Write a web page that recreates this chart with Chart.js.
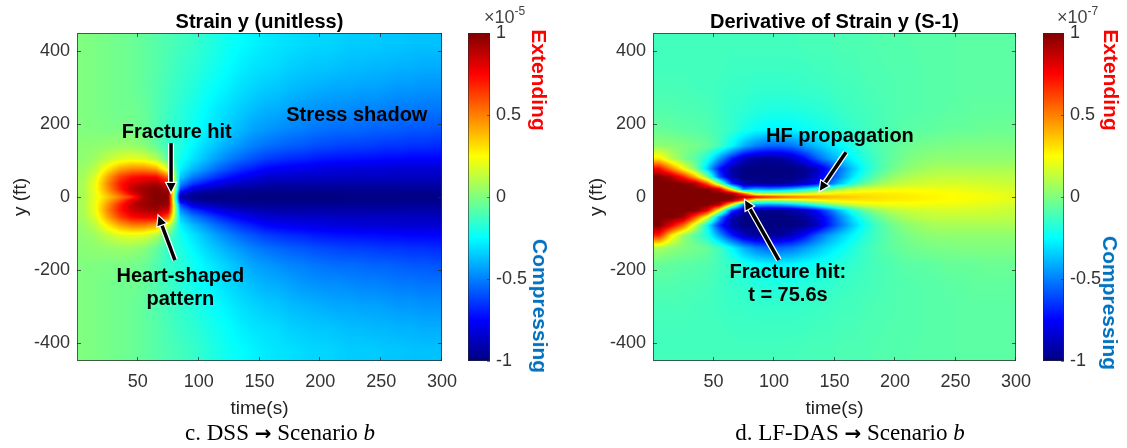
<!DOCTYPE html>
<html><head><meta charset="utf-8">
<script src="https://cdn.jsdelivr.net/npm/chart.js@4.4.1/dist/chart.umd.min.js"></script>
<style>
html,body{margin:0;padding:0;background:#fff}
body{width:1127px;height:448px;position:relative;overflow:hidden;font-family:"Liberation Sans",Arial,sans-serif}
canvas{position:absolute;top:0}
.c{position:absolute;transform:translate(-50%,-50%);white-space:nowrap}
.rot{position:absolute;transform:translate(-50%,-50%) rotate(90deg);white-space:nowrap;font:bold 21px "Liberation Sans",Arial,sans-serif}
.cap{font:23px "Liberation Serif","Times New Roman",serif;color:#000}
.exp{position:absolute;font:18px "Liberation Sans",Arial,sans-serif;color:#444;white-space:nowrap}
.exp sup{font-size:12px;vertical-align:8px}
</style></head>
<body>
<canvas id="c1" width="470" height="448" style="left:0"></canvas>
<canvas id="cb1" width="62" height="448" style="left:468px"></canvas>
<canvas id="c2" width="468" height="448" style="left:576px"></canvas>
<canvas id="cb2" width="61" height="448" style="left:1043px"></canvas>

<div class="exp" style="left:484px;top:4px">×10<sup>-5</sup></div>
<div class="exp" style="left:1057px;top:4px">×10<sup>-7</sup></div>
<div class="rot" style="left:539px;top:80px;color:#ff0000">Extending</div>
<div class="rot" style="left:540px;top:306px;color:#0070c0">Compressing</div>
<div class="rot" style="left:1111px;top:80px;color:#ff0000">Extending</div>
<div class="rot" style="left:1110px;top:303px;color:#0070c0">Compressing</div>
<div class="c cap" style="left:280px;top:433px">c. DSS <b style="font-family:'DejaVu Sans';font-size:20px">→</b> Scenario <i>b</i></div>
<div class="c cap" style="left:850px;top:433px">d. LF-DAS <b style="font-family:'DejaVu Sans';font-size:20px">→</b> Scenario <i>b</i></div>

<script>
const FONT = '"Liberation Sans", Arial, sans-serif';
Chart.defaults.font.family = FONT;

// ---- axes / grid cells ----
const timeEdges = [0,10,20,30,40,50,60,70,80,90,100,110,120,130,140,150,160,170,180,190,200,210,220,230,240,250,260,270,280,290,300];
const depthEdges = [450,390,330,270,210,160,120,90,65,45,28,14,5,-5,-14,-28,-45,-65,-90,-120,-160,-210,-270,-330,-390,-450];
const timeTicks = [50,100,150,200,250,300];
const depthTicks = [-400,-200,0,200,400];
const colorbarTicks = [-1,-0.5,0,0.5,1];
const colorbarTickLabels = ['-1','-0.5','0','0.5','1'];

// ---- Strain y, units of 1e-7 (colour range ±100 = ±1e-5); rows top (y=450) to bottom (y=-450) ----
const strainY = [
[0,-1,-2,-3,-4,-6,-8,-10,-12,-14,-17,-20,-23,-25,-27,-29,-30,-31,-32,-33,-33,-34,-35,-35,-35,-36,-36,-37,-37,-37],
[0,-1,-2,-3,-4,-6,-8,-11,-14,-16,-19,-22,-25,-28,-30,-31,-32,-34,-35,-36,-36,-37,-38,-38,-39,-39,-40,-40,-41,-41],
[0,-1,-2,-3,-4,-6,-9,-12,-15,-18,-22,-25,-28,-31,-33,-35,-36,-38,-39,-40,-41,-42,-42,-43,-43,-44,-45,-45,-46,-46],
[0,-1,-2,-3,-3,-5,-9,-13,-17,-21,-25,-29,-32,-35,-38,-40,-41,-43,-45,-46,-47,-47,-48,-49,-49,-50,-51,-51,-52,-52],
[0,0,-1,-1,-2,-4,-9,-15,-17,-22,-27,-31,-35,-39,-43,-45,-47,-49,-50,-52,-53,-54,-54,-55,-56,-56,-57,-58,-58,-59],
[2,3,4,5,5,2,-5,-15,-19,-26,-32,-37,-42,-46,-50,-53,-55,-57,-58,-60,-61,-62,-63,-63,-64,-65,-65,-66,-66,-67],
[3,6,12,18,20,18,10,-8,-22,-30,-37,-44,-50,-55,-59,-63,-65,-67,-68,-70,-71,-72,-72,-73,-73,-74,-74,-75,-75,-75],
[5,12,28,42,48,48,42,15,-27,-38,-46,-54,-60,-66,-70,-75,-77,-78,-79,-80,-81,-82,-82,-83,-83,-83,-84,-84,-84,-84],
[7,18,42,62,72,75,75,55,-35,-50,-58,-66,-72,-77,-81,-84,-85,-85,-86,-86,-86,-87,-87,-87,-87,-87,-87,-87,-87,-87],
[8,22,48,70,82,88,92,80,-47,-64,-72,-79,-84,-87,-89,-91,-92,-92,-92,-92,-92,-92,-92,-92,-92,-92,-92,-92,-92,-92],
[8,22,45,68,87,95,98,95,-62,-82,-88,-91,-94,-95,-96,-96,-96,-96,-96,-96,-96,-96,-96,-96,-96,-96,-96,-95,-95,-95],
[8,21,40,58,80,94,99,97,-82,-94,-97,-98,-98,-98,-99,-99,-99,-99,-99,-99,-99,-99,-98,-98,-98,-98,-98,-98,-98,-98],
[8,20,35,50,65,92,100,98,-90,-97,-99,-99,-99,-99,-100,-100,-100,-100,-100,-100,-100,-99,-99,-99,-99,-99,-99,-99,-99,-99],
[8,21,40,58,80,94,99,97,-82,-94,-97,-98,-98,-98,-99,-99,-99,-99,-99,-99,-99,-99,-98,-98,-98,-98,-98,-98,-98,-98],
[8,22,45,68,87,95,98,95,-62,-82,-88,-91,-94,-95,-96,-96,-96,-96,-96,-96,-96,-96,-96,-96,-96,-96,-96,-95,-95,-95],
[8,22,48,70,84,90,94,82,-47,-64,-72,-79,-84,-87,-89,-91,-92,-92,-92,-92,-92,-92,-92,-92,-92,-92,-92,-92,-92,-92],
[7,18,42,62,74,78,78,58,-35,-50,-58,-66,-72,-77,-81,-84,-85,-85,-86,-86,-86,-87,-87,-87,-87,-87,-87,-87,-87,-87],
[5,12,28,42,50,50,44,16,-27,-38,-46,-54,-60,-66,-70,-75,-77,-78,-79,-80,-81,-82,-82,-83,-83,-83,-84,-84,-84,-84],
[3,6,12,18,20,18,10,-8,-22,-30,-37,-44,-50,-55,-59,-63,-65,-67,-68,-70,-71,-72,-72,-73,-73,-74,-74,-75,-75,-75],
[2,3,4,5,5,2,-5,-15,-19,-26,-32,-37,-42,-46,-50,-53,-55,-57,-58,-60,-61,-62,-63,-63,-64,-65,-65,-66,-66,-67],
[0,0,-1,-1,-2,-4,-9,-15,-17,-22,-27,-31,-35,-39,-43,-45,-47,-49,-50,-52,-53,-54,-54,-55,-56,-56,-57,-58,-58,-59],
[0,-1,-2,-3,-3,-5,-9,-13,-17,-21,-25,-29,-32,-35,-38,-40,-41,-43,-45,-46,-47,-47,-48,-49,-49,-50,-51,-51,-52,-52],
[0,-1,-2,-3,-4,-6,-9,-12,-15,-18,-22,-25,-28,-31,-33,-35,-36,-38,-39,-40,-41,-42,-42,-43,-43,-44,-45,-45,-46,-46],
[0,-1,-2,-3,-4,-6,-8,-11,-14,-16,-19,-22,-25,-28,-30,-31,-32,-34,-35,-36,-36,-37,-38,-38,-39,-39,-40,-40,-41,-41],
[0,-1,-2,-3,-4,-6,-8,-10,-12,-14,-17,-20,-23,-25,-27,-29,-30,-31,-32,-33,-33,-34,-35,-35,-35,-36,-36,-37,-37,-37]
];

// ---- Derivative of strain y, units of 1e-9 s^-1 (colour range ±100 = ±1e-7) ----
const strainRateY = [
[-12,-12,-12,-12,-12,-12,-12,-12,-12,-12,-12,-12,-11,-11,-11,-10,-10,-10,-9,-9,-9,-8,-8,-8,-8,-7,-7,-7,-7,-7],
[-12,-12,-12,-12,-12,-12,-13,-13,-13,-13,-13,-13,-13,-12,-12,-11,-11,-10,-10,-9,-9,-9,-8,-8,-8,-7,-7,-7,-7,-7],
[-11,-11,-11,-12,-12,-13,-14,-14,-15,-15,-15,-15,-14,-14,-13,-12,-12,-11,-10,-10,-9,-9,-8,-8,-8,-7,-7,-7,-7,-7],
[-9,-9,-10,-10,-11,-13,-15,-16,-18,-19,-19,-19,-18,-17,-16,-14,-13,-12,-11,-10,-9,-9,-8,-8,-7,-7,-6,-6,-6,-6],
[-5,-6,-7,-8,-9,-12,-15,-20,-24,-26,-27,-26,-24,-22,-20,-17,-15,-13,-11,-10,-8,-7,-7,-6,-5,-5,-5,-4,-4,-4],
[3,2,0,-2,-5,-12,-25,-40,-50,-55,-55,-52,-45,-38,-31,-25,-19,-14,-10,-7,-5,-3,-2,-1,-1,0,0,0,0,0],
[30,12,0,-8,-20,-45,-70,-88,-95,-96,-95,-88,-75,-58,-45,-35,-26,-18,-12,-7,-3,0,2,3,3,3,3,3,3,3],
[75,50,25,0,-35,-72,-92,-99,-100,-100,-100,-100,-97,-88,-70,-52,-36,-22,-12,-5,0,4,6,8,8,8,8,8,8,8],
[100,92,70,40,0,-60,-92,-99,-100,-100,-100,-99,-95,-85,-68,-48,-30,-16,-6,2,7,10,12,13,13,13,13,13,12,12],
[100,100,100,92,60,5,-65,-92,-95,-96,-96,-93,-86,-74,-56,-36,-18,-5,4,10,13,15,16,17,17,17,16,16,15,14],
[100,100,100,100,100,85,20,-50,-40,-45,-42,-36,-26,-14,-2,8,15,19,21,22,23,23,23,22,22,21,20,19,18,17],
[100,100,100,100,100,100,95,55,8,6,8,12,17,22,26,28,29,29,29,28,28,27,26,26,25,24,23,22,21,19],
[100,100,100,100,100,100,100,90,78,68,60,54,48,44,40,37,35,33,31,30,29,28,27,26,25,24,24,23,22,20],
[100,100,100,100,100,100,95,55,8,6,8,12,17,22,26,28,29,29,29,28,28,27,26,26,25,24,23,22,21,19],
[100,100,100,100,100,88,25,-50,-40,-45,-42,-36,-26,-14,-2,8,15,19,21,22,23,23,23,22,22,21,20,19,18,17],
[100,100,100,100,80,20,-60,-92,-95,-96,-96,-93,-86,-74,-56,-36,-18,-5,4,10,13,15,16,17,17,17,16,16,15,14],
[100,100,95,60,20,-45,-90,-99,-100,-100,-100,-99,-95,-85,-68,-48,-30,-16,-6,2,7,10,12,13,13,13,13,13,12,12],
[100,80,55,15,-25,-68,-92,-99,-100,-100,-100,-100,-97,-88,-70,-52,-36,-22,-12,-5,0,4,6,8,8,8,8,8,8,8],
[70,30,5,-8,-20,-45,-70,-88,-95,-96,-95,-88,-75,-58,-45,-35,-26,-18,-12,-7,-3,0,2,3,3,3,3,3,3,3],
[8,3,0,-2,-5,-12,-25,-40,-50,-55,-55,-52,-45,-38,-31,-25,-19,-14,-10,-7,-5,-3,-2,-1,-1,0,0,0,0,0],
[-5,-6,-7,-8,-9,-12,-15,-20,-24,-26,-27,-26,-24,-22,-20,-17,-15,-13,-11,-10,-8,-7,-7,-6,-5,-5,-5,-4,-4,-4],
[-9,-9,-10,-10,-11,-13,-15,-16,-18,-19,-19,-19,-18,-17,-16,-14,-13,-12,-11,-10,-9,-9,-8,-8,-7,-7,-6,-6,-6,-6],
[-11,-11,-11,-12,-12,-13,-14,-14,-15,-15,-15,-15,-14,-14,-13,-12,-12,-11,-10,-10,-9,-9,-8,-8,-8,-7,-7,-7,-7,-7],
[-12,-12,-12,-12,-12,-12,-13,-13,-13,-13,-13,-13,-13,-12,-12,-11,-11,-10,-10,-9,-9,-9,-8,-8,-8,-7,-7,-7,-7,-7],
[-12,-12,-12,-12,-12,-12,-12,-12,-12,-12,-12,-12,-11,-11,-11,-10,-10,-10,-9,-9,-9,-8,-8,-8,-8,-7,-7,-7,-7,-7]
];

// ---- annotations (data coordinates: time s, y ft) ----
const strainNotes = [
  {lines:['Fracture hit'], t:82, y:178},
  {lines:['Stress shadow'], t:230, y:225},
  {lines:['Heart-shaped','pattern'], t:85, y:-250}
];
const strainArrows = [
  {from:[77.3,148], to:[77.3,10]},
  {from:[80.5,-173], to:[66.6,-49]}
];
const rateNotes = [
  {lines:['HF propagation'], t:154.5, y:165},
  {lines:['Fracture hit:','t = 75.6s'], t:111.5, y:-240}
];
const rateArrows = [
  {from:[159.5,123], to:[137.2,14]},
  {from:[104,-173], to:[75.6,-6]}
];

const TICK = '#333';
const LABEL = '#222';

function jetRGB(v){
  const f = Math.min(1, Math.max(0, (v + 1) / 2));
  const c = x => Math.round(255 * Math.min(1, Math.max(0, x)));
  return [c(Math.min(4*f - 1.5, -4*f + 4.5)), c(Math.min(4*f - 0.5, -4*f + 3.5)), c(Math.min(4*f + 0.5, -4*f + 2.5))];
}
function jet(v){ const [r,g,b] = jetRGB(v); return `rgb(${r},${g},${b})`; }

const timeCentres = timeEdges.slice(0, -1).map((v, j) => (v + timeEdges[j + 1]) / 2);
const depthCentres = depthEdges.slice(0, -1).map((v, i) => (v + depthEdges[i + 1]) / 2);
const clamp01 = v => Math.min(1, Math.max(0, v));

// value of a cell grid at (t, d), shaded smoothly between cell centres
function cellValue(grid, t, d){
  let j = 0; while (j < timeCentres.length - 2 && t > timeCentres[j + 1]) j++;
  const u = clamp01((t - timeCentres[j]) / (timeCentres[j + 1] - timeCentres[j]));
  let i = 0; while (i < depthCentres.length - 2 && d < depthCentres[i + 1]) i++;
  const w = clamp01((depthCentres[i] - d) / (depthCentres[i] - depthCentres[i + 1]));
  const top = (1 - u) * grid[i][j] + u * grid[i][j + 1];
  const bot = (1 - u) * grid[i + 1][j] + u * grid[i + 1][j + 1];
  return (1 - w) * top + w * bot;
}

function heatmapPlugin(grid){
  return {id:'heat', beforeDatasetsDraw(chart){
    const {ctx, chartArea:a, scales:{x, y}} = chart;
    const L = Math.round(a.left), T = Math.round(a.top);
    const W = Math.round(a.right) - L, H = Math.round(a.bottom) - T;
    const img = ctx.createImageData(W, H);
    const ts = []; for (let px = 0; px < W; px++) ts.push(x.getValueForPixel(L + px + 0.5));
    for (let py = 0; py < H; py++){
      const d = y.getValueForPixel(T + py + 0.5);
      for (let px = 0; px < W; px++){
        const [r, g, b] = jetRGB(cellValue(grid, ts[px], d) / 100);
        const k = (py * W + px) * 4;
        img.data[k] = r; img.data[k + 1] = g; img.data[k + 2] = b; img.data[k + 3] = 255;
      }
    }
    ctx.putImageData(img, L, T);
  }};
}

function drawArrow(ctx, x0, y0, x1, y1){
  const ang = Math.atan2(y1 - y0, x1 - x0), L = 11, W = 5.5;
  const bx = x1 - L*Math.cos(ang), by = y1 - L*Math.sin(ang);
  const nx = -Math.sin(ang), ny = Math.cos(ang);
  ctx.lineCap = 'butt';
  ctx.beginPath(); ctx.moveTo(x0, y0); ctx.lineTo(bx, by);
  ctx.strokeStyle = '#fff'; ctx.lineWidth = 6; ctx.stroke();
  ctx.strokeStyle = '#000'; ctx.lineWidth = 3.5; ctx.stroke();
  ctx.beginPath(); ctx.moveTo(x1, y1); ctx.lineTo(bx + nx*W, by + ny*W); ctx.lineTo(bx - nx*W, by - ny*W); ctx.closePath();
  ctx.fillStyle = '#000'; ctx.fill();
  ctx.strokeStyle = '#fff'; ctx.lineWidth = 1.2; ctx.stroke();
}

function decorPlugin(title, notes, arrows){
  return {id:'decor', afterDraw(chart){
    const {ctx, chartArea:a, scales:{x, y}} = chart;
    ctx.save();
    ctx.strokeStyle = 'rgba(40,40,40,0.75)'; ctx.lineWidth = 1;
    ctx.strokeRect(a.left + 0.5, a.top + 0.5, a.width - 1, a.height - 1);
    ctx.beginPath();
    timeTicks.forEach(v => { const px = Math.round(x.getPixelForValue(v)) - 0.5;
      ctx.moveTo(px, a.bottom); ctx.lineTo(px, a.bottom - 4); ctx.moveTo(px, a.top); ctx.lineTo(px, a.top + 4); });
    depthTicks.forEach(v => { const py = Math.round(y.getPixelForValue(v)) + 0.5;
      ctx.moveTo(a.left, py); ctx.lineTo(a.left + 4, py); ctx.moveTo(a.right, py); ctx.lineTo(a.right - 4, py); });
    ctx.stroke();
    ctx.fillStyle = '#000'; ctx.font = 'bold 20px ' + FONT; ctx.textAlign = 'center'; ctx.textBaseline = 'middle';
    ctx.fillText(title, (a.left + a.right) / 2, a.top - 11);
    arrows.forEach(ar => drawArrow(ctx, x.getPixelForValue(ar.from[0]), y.getPixelForValue(ar.from[1]),
                                        x.getPixelForValue(ar.to[0]), y.getPixelForValue(ar.to[1])));
    ctx.fillStyle = '#000'; ctx.font = 'bold 20px ' + FONT;
    notes.forEach(n => {
      const cx = x.getPixelForValue(n.t), cy = y.getPixelForValue(n.y), lh = 23;
      n.lines.forEach((s, k) => ctx.fillText(s, cx, cy + (k - (n.lines.length - 1) / 2) * lh));
    });
    ctx.restore();
  }};
}

function heatChart(id, grid, title, notes, arrows){
  return new Chart(document.getElementById(id), {
    type: 'scatter',
    data: {datasets: []},
    options: {
      responsive: false, animation: false, events: [],
      layout: {padding: {top: 33, right: 28, bottom: 28, left: 0}},
      plugins: {legend: {display: false}, tooltip: {enabled: false}},
      scales: {
        x: {type: 'linear', min: 0, max: 300,
          afterBuildTicks: s => { s.ticks = timeTicks.map(v => ({value: v})); },
          afterFit: s => { s.height = 59; },
          grid: {display: false, drawTicks: false}, border: {display: false},
          ticks: {padding: 10, color: TICK, font: {size: 18}, maxRotation: 0, autoSkip: false},
          title: {display: true, text: 'time(s)', color: LABEL, font: {size: 19}, padding: {top: 0, bottom: 0}}},
        y: {type: 'linear', min: -450, max: 450,
          afterBuildTicks: s => { s.ticks = depthTicks.map(v => ({value: v})); },
          afterFit: s => { s.width = 77; },
          grid: {display: false, drawTicks: false}, border: {display: false},
          ticks: {padding: 7, color: TICK, font: {size: 18}, autoSkip: false},
          title: {display: true, text: 'y (ft)', color: LABEL, font: {size: 19}, padding: {top: 9, bottom: 0}}}
      }
    },
    plugins: [heatmapPlugin(grid), decorPlugin(title, notes, arrows)]
  });
}

const colorbarPlugin = {id: 'cbar',
  beforeDatasetsDraw(chart){
    const {ctx, chartArea: a, scales: {y}} = chart;
    for (let py = Math.floor(a.top); py < Math.ceil(a.bottom); py++){
      ctx.fillStyle = jet(y.getValueForPixel(py + 0.5));
      ctx.fillRect(a.left, py, a.width, 1);
    }
  },
  afterDraw(chart){
    const {ctx, chartArea: a, scales: {y}} = chart;
    ctx.save();
    ctx.strokeStyle = 'rgba(40,40,40,0.6)'; ctx.lineWidth = 1;
    ctx.strokeRect(a.left + 0.5, a.top + 0.5, a.width - 1, a.height - 1);
    ctx.beginPath();
    colorbarTicks.forEach(v => { const py = Math.round(y.getPixelForValue(v)) + 0.5;
      ctx.moveTo(a.right, py); ctx.lineTo(a.right - 3, py); });
    ctx.stroke();
    ctx.restore();
  }
};

function colorbarChart(id, barWidth){
  return new Chart(document.getElementById(id), {
    type: 'scatter', data: {datasets: []},
    options: {
      responsive: false, animation: false, events: [],
      layout: {padding: {top: 33, bottom: 87, left: 0, right: 0}},
      plugins: {legend: {display: false}, tooltip: {enabled: false}},
      scales: {
        x: {display: false, min: 0, max: 1},
        y: {position: 'right', min: -1, max: 1,
          afterBuildTicks: s => { s.ticks = colorbarTicks.map(v => ({value: v})); },
          afterFit: s => { s.width = s.chart.width - barWidth; },
          grid: {display: false, drawTicks: false}, border: {display: false},
          ticks: {padding: 6, color: TICK, font: {size: 18}, autoSkip: false,
            callback: (v, i) => colorbarTickLabels[i]}}
      }
    },
    plugins: [colorbarPlugin]
  });
}

heatChart('c1', strainY, 'Strain y (unitless)', strainNotes, strainArrows);
colorbarChart('cb1', 22);
heatChart('c2', strainRateY, 'Derivative of Strain y (S-1)', rateNotes, rateArrows);
colorbarChart('cb2', 21);
</script>
</body></html>
